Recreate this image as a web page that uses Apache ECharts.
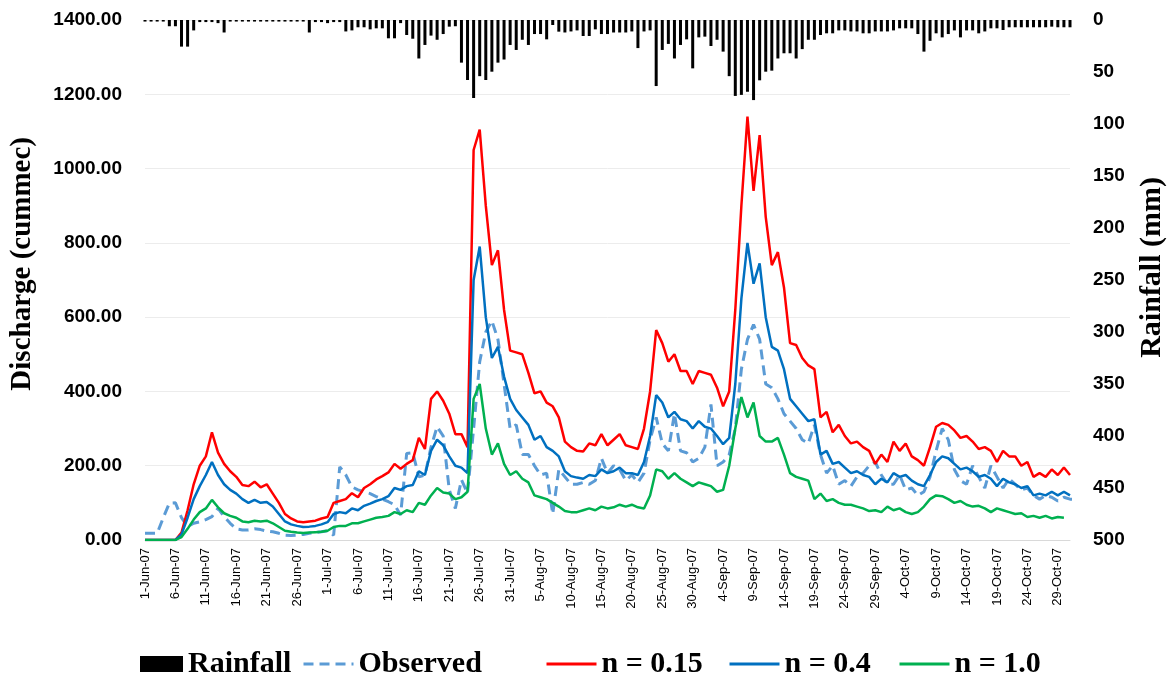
<!DOCTYPE html>
<html>
<head>
<meta charset="utf-8">
<script src="https://cdn.jsdelivr.net/npm/echarts@6/dist/echarts.min.js"></script>
<style>
  html, body { margin: 0; padding: 0; background: #fff; }
  #chart { width: 1172px; height: 674px; }
</style>
</head>
<body>
<div id="chart"></div>
<script>
// Daily series, 1-Jun-2007 to 31-Oct-2007
const startDate = new Date(2007, 5, 1);
const dayCount = 153;
const monthNames = ['Jan','Feb','Mar','Apr','May','Jun','Jul','Aug','Sep','Oct','Nov','Dec'];
const dates = [];
for (let i = 0; i < dayCount; i++) {
  const d = new Date(startDate.getFullYear(), startDate.getMonth(), startDate.getDate() + i);
  dates.push(d.getDate() + '-' + monthNames[d.getMonth()] + '-07');
}

// Rainfall (mm)
const rainfall = [
  1.5,1.5,1.5,1.5,6,6,25.6,25.6,10,2,2,2,3,12,
  1.5,1.5,1.5,1.5,1.5,1.5,1.5,1.5,1.5,1.5,1.5,1.5,1.5,
  12,2,2,3,2,2,11,10,7,7,9,8,8,17.6,17.6,3,14.4,18,37,24,15,19,13.5,6.4,6,
  41,57.7,75,54,57.7,49.7,41,38,24,28.8,19,24,13.5,13.5,18.6,4.8,11.2,12,11,10,
  15.4,15.4,9,13.5,13.5,12,12,12,11,27,11,10,63.5,28.8,23,37,24,18.6,46.5,16.7,
  16,25,19,30.4,54,73,72,69,77,58,49.7,48.7,37,32,32,37,28,19,19,14.4,12.8,12.8,
  10,10,11,11,12.8,12.8,11,11,11,10,8,8,8,13.5,30.4,20,12.8,16.7,13.5,10,16.7,
  10,10,12.8,11,8,8,9.6,7,7,7,7,7,7,7,6.4,7,7,7
];

// Observed discharge (cummec)
const observed = [
  18,18,18,60,99,100,60,36,45,49,55,63,85,63,45,30,27,27,30,28,24,22,18,13,12,
  13,15,18,20,22,25,13,197,175,143,135,130,125,117,110,103,95,67,233,235,170,
  175,250,305,280,135,85,162,126,300,480,560,590,540,420,300,310,230,230,200,
  175,180,70,190,170,150,150,155,150,160,220,180,200,190,160,175,155,180,270,
  330,260,240,340,240,235,210,220,250,365,200,210,230,300,460,540,580,540,420,
  410,380,340,320,300,270,260,310,230,180,200,150,160,145,170,180,200,210,175,150,150,
  175,135,140,120,130,170,240,300,270,190,160,150,200,170,140,200,170,140,165,
  150,135,140,120,110,120,115,105,115,110,110
];

// Simulated discharge, n = 0.15
const sim015 = [
  0,0,0,0,0,0,20,80,150,200,225,290,235,205,185,170,148,145,157,142,150,125,
  100,70,58,50,48,50,52,58,62,100,105,110,126,115,140,150,163,172,182,205,192,
  205,215,275,245,380,400,375,340,285,285,250,1050,1105,900,740,780,620,510,505,
  500,450,395,400,370,360,330,265,250,240,238,260,255,285,255,270,285,255,250,
  245,300,400,565,530,480,500,455,455,420,455,450,445,410,360,400,620,900,1140,
  940,1090,870,740,775,680,530,525,490,470,460,330,345,290,310,280,260,265,250,
  240,205,230,210,265,240,260,225,215,200,250,305,315,310,295,275,280,265,245,
  250,240,210,240,225,225,200,210,170,180,170,190,175,195,175
];

// Simulated discharge, n = 0.4
const sim04 = [
  0,0,0,0,0,0,15,60,110,145,175,210,175,150,135,125,110,100,108,100,102,90,70,
  50,42,38,35,36,38,42,48,70,75,72,85,80,92,98,105,110,118,140,135,145,148,185,
  175,240,270,255,225,200,195,180,700,790,600,490,520,440,380,350,330,310,270,
  280,250,240,225,185,172,168,165,175,172,190,180,185,195,180,180,175,210,280,
  390,370,330,345,325,320,300,320,305,300,280,258,275,420,650,800,690,745,600,
  520,510,460,380,360,340,320,325,230,240,205,210,195,180,185,175,170,150,165,
  155,180,170,175,160,150,145,175,210,225,220,205,190,195,185,170,175,165,145,
  165,155,150,140,145,120,125,120,130,120,130,120
];

// Simulated discharge, n = 1.0
const sim10 = [
  0,0,0,0,0,0,8,30,55,75,85,108,88,72,65,60,50,48,52,50,52,45,35,25,22,20,19,
  20,21,22,25,35,38,38,45,45,50,55,60,62,65,75,70,80,75,100,95,120,140,128,125,
  110,115,130,380,420,300,230,260,205,175,185,165,155,120,115,110,100,90,78,75,
  75,80,85,80,90,85,88,95,90,95,88,85,120,190,185,165,180,165,155,145,155,150,
  145,130,135,200,300,385,330,370,280,265,265,275,230,180,170,165,160,110,
  125,105,110,100,95,95,90,85,78,80,75,90,80,85,75,70,75,90,110,120,118,110,100,
  105,95,90,92,85,75,85,80,75,70,72,62,65,60,65,58,62,60
];

const serifFont = '"Liberation Serif", "Times New Roman", serif';
const sansFont = '"Liberation Sans", Arial, sans-serif';

const chart = echarts.init(document.getElementById('chart'), null, { renderer: 'canvas' });

// one legend block per entry so each can sit at its own spot along the bottom
const legendText = { fontFamily: serifFont, fontWeight: 'bold', fontSize: 30, color: '#000' };
function legendBlock(name, left, isLine) {
  const block = {
    left: left, top: 644,
    itemWidth: isLine ? 50 : 43, itemHeight: 16, itemGap: 0,
    textStyle: legendText,
    selectedMode: false,
    data: [isLine ? { name: name, itemStyle: { opacity: 0 } } : { name: name, icon: 'rect' }]
  };
  if (isLine) block.lineStyle = { width: 3 };
  return block;
}

chart.setOption({
  backgroundColor: '#ffffff',
  animation: false,
  grid: { left: 145, right: 102, top: 20, bottom: 134, containLabel: false },
  xAxis: {
    type: 'category',
    data: dates,
    boundaryGap: false,
    axisLine: { show: true, lineStyle: { color: '#d9d9d9', width: 1 } },
    axisTick: { show: false },
    axisLabel: {
      interval: 4,
      rotate: 90,
      color: '#000',
      fontFamily: sansFont,
      fontSize: 13,
      margin: 8
    },
    splitLine: { show: false }
  },
  yAxis: [
    {
      type: 'value',
      min: 0, max: 1400, interval: 200,
      axisLine: { show: false },
      axisTick: { show: false },
      axisLabel: {
        formatter: v => v.toFixed(2),
        color: '#000', fontWeight: 'bold', fontFamily: sansFont, fontSize: 19, margin: 23
      },
      splitLine: { show: true, lineStyle: { color: '#ececec', width: 1 } }
    },
    {
      type: 'value',
      min: 0, max: 500, interval: 50,
      inverse: true,
      position: 'right',
      axisLine: { show: false },
      axisTick: { show: false },
      axisLabel: {
        color: '#000', fontWeight: 'bold', fontFamily: sansFont, fontSize: 19, margin: 23
      },
      splitLine: { show: false }
    }
  ],
  legend: [
    legendBlock('Rainfall', 135, false),
    legendBlock('Observed', 297, true),
    legendBlock('n = 0.15', 540, true),
    legendBlock('n = 0.4', 723, true),
    legendBlock('n = 1.0', 893, true)
  ],
  graphic: [
    {
      type: 'text', left: 8, top: 137, rotation: Math.PI / 2,
      style: { text: 'Discharge (cummec)', font: 'bold 29px ' + serifFont, fill: '#000' }
    },
    {
      type: 'text', left: 1137, top: 177, rotation: Math.PI / 2,
      style: { text: 'Rainfall (mm)', font: 'bold 30px ' + serifFont, fill: '#000' }
    }
  ],
  series: [
    {
      name: 'Rainfall', type: 'bar', yAxisIndex: 1, data: rainfall,
      barWidth: 3, itemStyle: { color: '#000' }
    },
    {
      name: 'Observed', type: 'line', data: observed, symbol: 'none',
      lineStyle: { color: '#5b9bd5', width: 3, type: [10, 6] }, itemStyle: { color: '#5b9bd5' }
    },
    {
      name: 'n = 0.15', type: 'line', data: sim015, symbol: 'none',
      lineStyle: { color: '#ff0000', width: 2.5 }, itemStyle: { color: '#ff0000' }
    },
    {
      name: 'n = 0.4', type: 'line', data: sim04, symbol: 'none',
      lineStyle: { color: '#0070c0', width: 2.5 }, itemStyle: { color: '#0070c0' }
    },
    {
      name: 'n = 1.0', type: 'line', data: sim10, symbol: 'none',
      lineStyle: { color: '#00b050', width: 2.5 }, itemStyle: { color: '#00b050' }
    }
  ]
});
</script>
</body>
</html>
